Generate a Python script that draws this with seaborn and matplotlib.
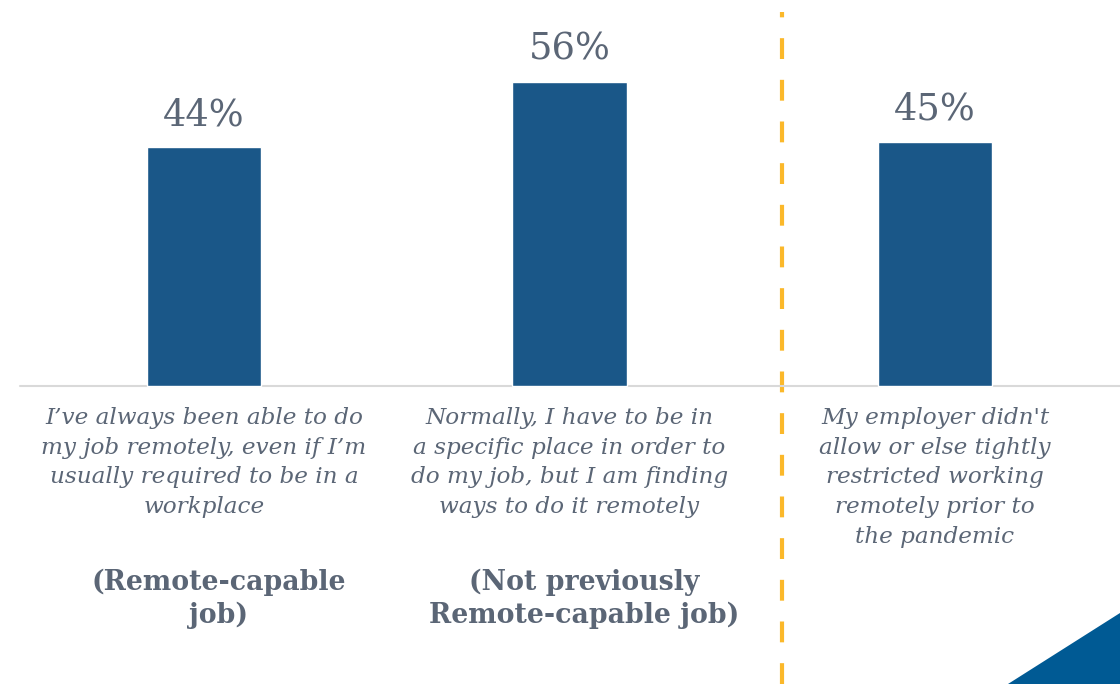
import matplotlib
matplotlib.use("Agg")
import matplotlib.pyplot as plt
from matplotlib.patches import Polygon
import seaborn as sns
import pandas as pd

# Survey responses: share of workers in each group
categories = [
    "I\u2019ve always been able to do\nmy job remotely, even if I\u2019m\nusually required to be in a\nworkplace",
    "Normally, I have to be in\na specific place in order to\ndo my job, but I am finding\nways to do it remotely",
    "My employer didn't\nallow or else tightly\nrestricted working\nremotely prior to\nthe pandemic",
]
values = [44, 56, 45]
value_labels = ["44%", "56%", "45%"]
group_labels = ["(Remote-capable\njob)", "(Not previously\nRemote-capable job)", ""]

BAR = "#1a5788"
TEXT = "#5b6676"
GOLD = "#fbb82a"
SERIF = ["DejaVu Serif"]

sns.set_theme(style="white")
plt.rcParams["font.family"] = SERIF

df = pd.DataFrame({"cat": categories, "val": values})

fig = plt.figure(figsize=(11.2, 6.84), dpi=100)
ax = fig.add_axes([0, 0, 1, 1])
sns.barplot(data=df, x="cat", y="val", color=BAR, width=0.312, saturation=1,
            ax=ax, zorder=3)

ax.set_xlim(-0.558, 2.506)
ax.set_ylim(-54.9, 71.1)
ax.axis("off")

# baseline
ax.axhline(0, xmin=20 / 1120, xmax=1, color="#d9d9d9", lw=1.5, zorder=2)

# divider between the two groups of respondents
ax.axvline(1.58, ymin=0, ymax=(684 - 12) / 684, color=GOLD, lw=3,
           dashes=(5, 5), zorder=1)

for i, (v, lab) in enumerate(zip(values, value_labels)):
    ax.text(i, v + 2.6, lab, ha="center", va="bottom", fontsize=26.5,
            color=TEXT, family=SERIF)

for i, cat in enumerate(categories):
    ax.text(i, -3.9, cat, ha="center", va="top", fontsize=16.7,
            style="italic", color=TEXT, linespacing=1.45, family=SERIF)

for i, g in enumerate(group_labels):
    if g:
        ax.text(i + 0.041, -33.6, g, ha="center", va="top", fontsize=19.3,
                fontweight="bold", color=TEXT, linespacing=1.27, family=SERIF)

# corner accent
fig.patches.append(Polygon([(1008 / 1120, 0), (1, 0), (1, 71 / 684)],
                           closed=True, transform=fig.transFigure,
                           facecolor="#005a94", edgecolor="none"))

fig.savefig("out.png", dpi=100)
